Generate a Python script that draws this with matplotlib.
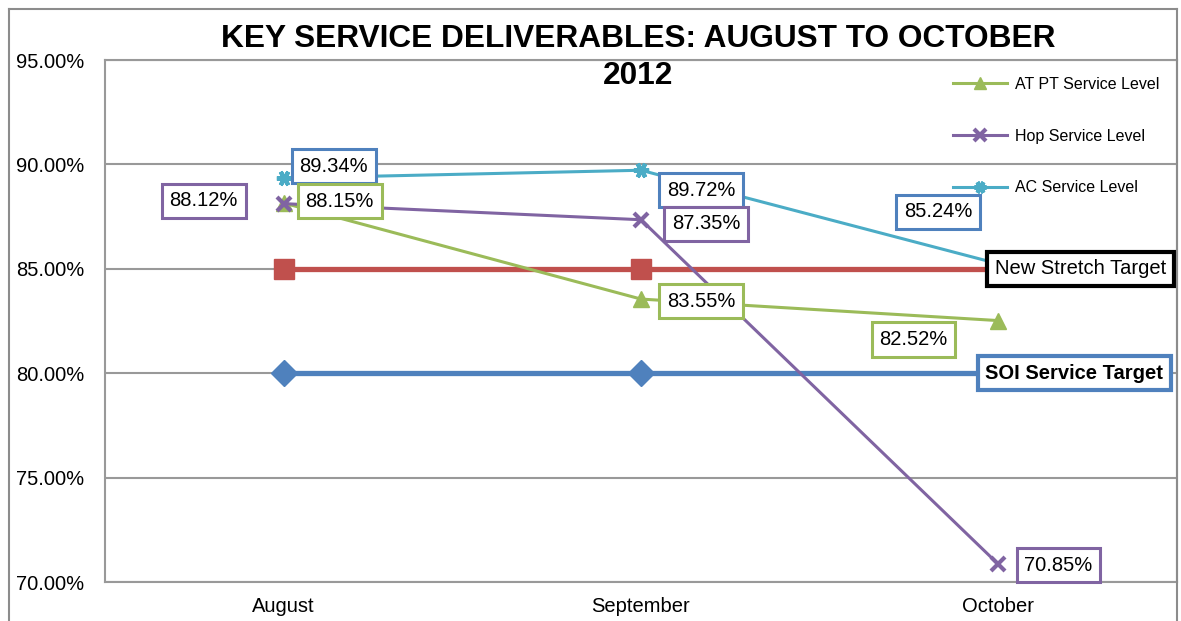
import matplotlib.pyplot as plt
from matplotlib.lines import Line2D

plt.rcParams['font.family'] = ['Liberation Sans', 'DejaVu Sans']

months = ['August', 'September', 'October']
at_pt = [88.15, 83.55, 82.52]
hop = [88.12, 87.35, 70.85]
ac = [89.34, 89.72, 85.24]
stretch_target = [85.0, 85.0, 85.0]
soi_target = [80.0, 80.0, 80.0]
yticks = [70, 75, 80, 85, 90, 95]

GREEN = '#9BBB59'
PURPLE = '#8064A2'
CYAN = '#4BACC6'
RED = '#C0504D'
BLUE = '#4F81BD'

fig = plt.figure(figsize=(11.81, 6.21), dpi=100)
ax = fig.add_axes([105 / 1181, 1 - 582 / 621, 1072 / 1181, 522 / 621])
x = list(range(len(months)))

# outer chart frame
for xs, ys in [([9, 9], [621, 9]), ([9, 1177], [9, 9]), ([1177, 1177], [9, 621])]:
    fig.add_artist(Line2D([v / 1181 for v in xs], [1 - v / 621 for v in ys],
                          color='#8c8c8c', lw=1.5, transform=fig.transFigure))

ax.plot(x, soi_target, color=BLUE, lw=3.8, marker='D', ms=13, zorder=3)
ax.plot(x, stretch_target, color=RED, lw=3.8, marker='s', ms=15, zorder=3)
l1, = ax.plot(x, at_pt, color=GREEN, lw=2.2, marker='^', ms=11, label='AT PT Service Level', zorder=4)
l2, = ax.plot(x, hop, color=PURPLE, lw=2.2, marker='x', ms=10, mew=3, label='Hop Service Level', zorder=4)
l3, = ax.plot(x, ac, color=CYAN, lw=2.2, marker=(6, 2, 90), ms=11, mew=3, label='AC Service Level', zorder=4)

ax.set_xlim(-0.5, 2.5)
ax.set_ylim(70, 95)
ax.set_yticks(yticks)
ax.set_yticklabels(['%.2f%%' % v for v in yticks])
ax.set_xticks(x)
ax.set_xticklabels(months)
ax.tick_params(length=0, labelsize=14.5, pad=11)
ax.tick_params(axis='y', pad=15)
ax.grid(axis='y', color='#999999', lw=1.5)
for s in ax.spines.values():
    s.set_color('#999999')
    s.set_linewidth(1.5)


def box(val, i, dx, dy, color, text=None, weight='normal', lw=2.2):
    ax.annotate(text or '%.2f%%' % val, (i, val), xytext=(dx, dy), textcoords='offset pixels',
                ha='center', va='center', fontsize=14.5, weight=weight, zorder=6,
                bbox=dict(boxstyle='square,pad=0.38', fc='white', ec=color, lw=lw))


# data labels
box(ac[0], 0, 50, 12, BLUE)
box(hop[0], 0, -80, 3, PURPLE)
box(at_pt[0], 0, 56, 2, GREEN)
box(ac[1], 1, 60, -20, BLUE)
box(hop[1], 1, 65, -4, PURPLE)
box(at_pt[1], 1, 60, -2, GREEN)
box(ac[2], 2, -60, 52, BLUE)
box(at_pt[2], 2, -85, -19, GREEN)
box(hop[2], 2, 60, -1, PURPLE)
box(stretch_target[2], 2, 82, 0, 'black', 'New Stretch Target', lw=3)
box(soi_target[2], 2, 76, 0, BLUE, 'SOI Service Target', weight='bold', lw=3)

fig.text(638 / 1181, 1 - 39 / 621, 'KEY SERVICE DELIVERABLES: AUGUST TO OCTOBER',
         ha='center', va='center', fontsize=22.8, weight='bold')
fig.text(638 / 1181, 1 - 76 / 621, '2012',
         ha='center', va='center', fontsize=22.8, weight='bold')

ax.legend(handles=[l1, l2, l3], loc='upper left', bbox_to_anchor=(945 / 1181, 1 - 69 / 621),
          bbox_transform=fig.transFigure, frameon=False, fontsize=11.5, labelspacing=2.3,
          handlelength=3.4, markerscale=0.8, borderpad=0, handletextpad=0.5)

fig.savefig('out.png', dpi=100)
